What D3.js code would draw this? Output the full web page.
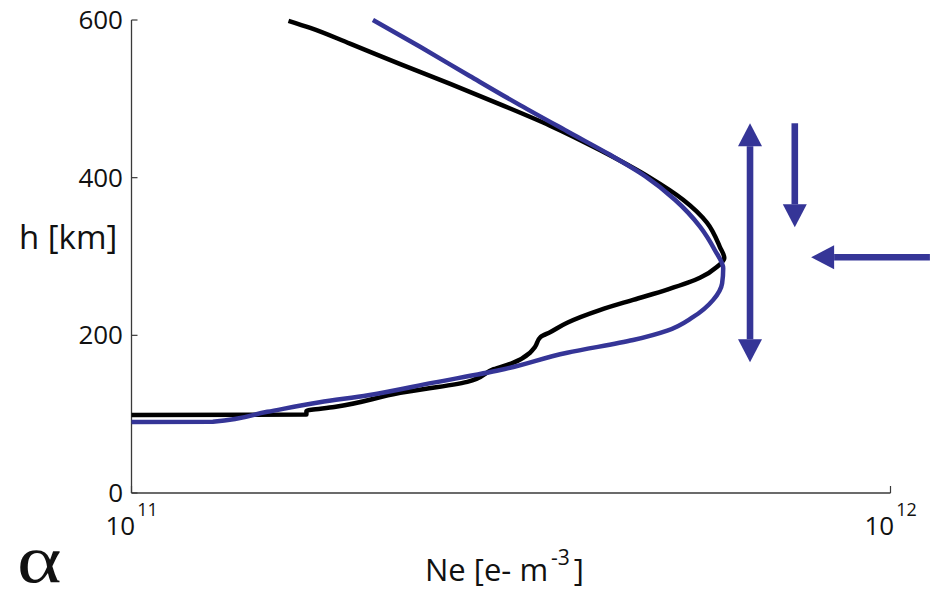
<!DOCTYPE html>
<html>
<head>
<meta charset="utf-8">
<script src="https://cdn.jsdelivr.net/npm/d3@7"></script>
<style>
  html, body { margin: 0; padding: 0; background: #fff; }
  svg { display: block; }
  text { font-family: "Open Sans", sans-serif; fill: #111; }
</style>
</head>
<body>
<svg id="chart" width="937" height="590"></svg>
<script>
// Electron density profiles: measured (black) and model (blue)
const measuredNe = [1.61,1.72,1.94,2.26,2.63,3.06,3.56,4.14,4.82,5.33,5.73,5.96,6.04,5.91,5.61,5.08,4.58,4.14,3.75,3.56,3.46,3.40,3.35,3.18,3.00,2.77,2.26,1.85,1.70,1.70,1.00].map(v => v * 1e11);
const measuredH  = [599,590,570,544,519,493,466,435,400,372,343,312,298,287,273,258,245,232,216,204,198,185,178,165,157,141,127,109,104,99.5,99];

const modelNe = [2.08,2.40,2.79,3.25,3.78,4.27,4.75,5.20,5.61,5.87,6.02,6.00,5.84,5.49,5.08,4.58,3.75,3.06,2.50,2.05,1.77,1.51,1.28,1.00].map(v => v * 1e11);
const modelH  = [600,566,529,492,457,429,402,372,338,308,285,266,245,223,206,194,178,156,140,124,115,103,90.3,90];

const yTicks = [0, 200, 400, 600];
const xTickExps = [11, 12];

// Annotation arrows: [Ne start, h start, Ne end, h end, head at start?, head at end?]
const arrows = [
  [6.53e11, 469, 6.53e11, 166, true, true],
  [7.48e11, 469, 7.48e11, 337, false, true],
  [1.127e12, 299, 7.86e11, 299, false, true]
];

const svg = d3.select("#chart");
const x = d3.scaleLog().domain([1e11, 1e12]).range([131.5, 890.5]);
const y = d3.scaleLinear().domain([0, 600]).range([493, 20]);
const axisColor = "#3a3a3a";

// Axes (left and bottom only), ticks pointing inward
const gy = svg.append("g");
gy.append("line").attr("x1", x(1e11)).attr("x2", x(1e11))
  .attr("y1", y(600)).attr("y2", y(0))
  .attr("stroke", axisColor).attr("stroke-width", 1.3);
gy.selectAll("line.tick").data(yTicks).join("line").attr("class", "tick")
  .attr("x1", x(1e11)).attr("x2", x(1e11) + 6)
  .attr("y1", d => y(d)).attr("y2", d => y(d))
  .attr("stroke", axisColor).attr("stroke-width", 1.2);
gy.selectAll("text").data(yTicks).join("text")
  .attr("x", 123).attr("y", d => y(d) + 2)
  .attr("text-anchor", "end").attr("dominant-baseline", "middle")
  .attr("font-size", 26).text(d => d);

const gx = svg.append("g");
gx.append("line").attr("x1", x(1e11)).attr("x2", x(1e12))
  .attr("y1", y(0)).attr("y2", y(0))
  .attr("stroke", axisColor).attr("stroke-width", 1.3);
gx.selectAll("line.tick").data(xTickExps).join("line").attr("class", "tick")
  .attr("x1", d => x(Math.pow(10, d))).attr("x2", d => x(Math.pow(10, d)))
  .attr("y1", y(0)).attr("y2", y(0) - 7)
  .attr("stroke", axisColor).attr("stroke-width", 1.2);
const xl = gx.selectAll("text").data(xTickExps).join("text")
  .attr("x", d => x(Math.pow(10, d)) - 26).attr("y", 535)
  .attr("font-size", 26);
xl.append("tspan").text("10");
xl.append("tspan").attr("dy", -19).attr("dx", 2).attr("font-size", 18).text(d => d);

// Axis titles
svg.append("text").attr("x", 19).attr("y", 249).attr("font-size", 33).text("h [km]");
const xt = svg.append("text").attr("x", 425).attr("y", 581).attr("font-size", 31);
xt.append("tspan").text("Ne [e- m");
xt.append("tspan").attr("dy", -16).attr("dx", 3).attr("font-size", 21).text("-3");
xt.append("tspan").attr("dy", 16).attr("dx", 4).text("]");

svg.append("text")
  .attr("transform", "translate(17,582) scale(1.25,1)")
  .style("font-family", "'Liberation Serif', 'DejaVu Serif', serif")
  .attr("font-size", 68).text("α");

// Profiles: height is monotone along each trace, so interpolate Ne as a function of h
const line = d3.line()
  .x(d => x(d[0])).y(d => y(d[1]))
  .curve(d3.curveMonotoneY);

svg.append("path")
  .attr("d", line(d3.zip(measuredNe, measuredH)))
  .attr("fill", "none").attr("stroke", "#000").attr("stroke-width", 4.5)
  .attr("stroke-linejoin", "round");

svg.append("path")
  .attr("d", line(d3.zip(modelNe, modelH)))
  .attr("fill", "none").attr("stroke", "#353597").attr("stroke-width", 4.5)
  .attr("stroke-linejoin", "round");

// Arrows
const arrowColor = "#353597";
const headLen = 23, headHalf = 12, shaftHalf = 3.3;
arrows.forEach(([n1, h1, n2, h2, hs, he]) => {
  const p1 = [x(n1), y(h1)], p2 = [x(n2), y(h2)];
  const dx = p2[0] - p1[0], dy = p2[1] - p1[1];
  const L = Math.hypot(dx, dy), ux = dx / L, uy = dy / L;
  const nx = -uy, ny = ux;
  const a = hs ? headLen : 0, b = he ? L - headLen : L;
  const pt = t => [p1[0] + ux * t, p1[1] + uy * t];
  const s0 = pt(a), s1 = pt(b);
  svg.append("polygon").attr("fill", arrowColor).attr("points", [
    [s0[0] + nx * shaftHalf, s0[1] + ny * shaftHalf],
    [s1[0] + nx * shaftHalf, s1[1] + ny * shaftHalf],
    [s1[0] - nx * shaftHalf, s1[1] - ny * shaftHalf],
    [s0[0] - nx * shaftHalf, s0[1] - ny * shaftHalf]
  ].join(" "));
  const head = (tip, base) => svg.append("polygon").attr("fill", arrowColor).attr("points", [
    tip,
    [base[0] + nx * headHalf, base[1] + ny * headHalf],
    [base[0] - nx * headHalf, base[1] - ny * headHalf]
  ].join(" "));
  if (he) head(p2, s1);
  if (hs) head(p1, s0);
});
</script>
</body>
</html>
